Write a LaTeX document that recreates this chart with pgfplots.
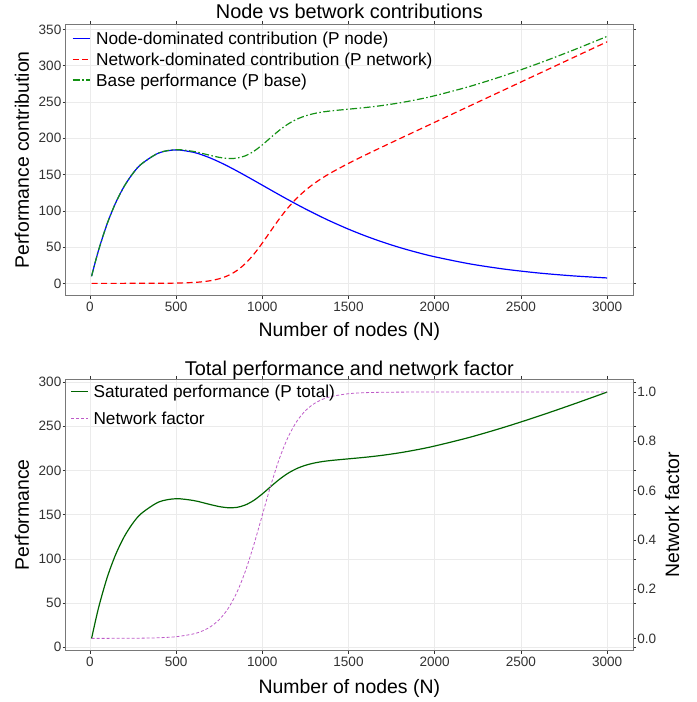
\documentclass[border=0pt]{standalone}
\usepackage{pgfplots}
\pgfplotsset{compat=1.18}
\usepackage{pgfplotstable}
\usepackage{fontspec}
\setmainfont{Liberation Sans}
\definecolor{lnBlue}{RGB}{0,0,255}
\definecolor{lnRed}{RGB}{255,0,0}
\definecolor{lnGreen}{RGB}{20,145,20}
\definecolor{lnDkGreen}{RGB}{0,100,0}
\definecolor{lnPurple}{RGB}{190,90,200}
\definecolor{gridc}{RGB}{235,235,235}
\definecolor{framec}{RGB}{120,120,120}
\definecolor{tickc}{RGB}{50,50,50}
\pgfplotstableread{
N node net base total factor
10 9.80 0.00 9.80 9.75 0.0000
50 45.24 0.00 45.24 44.19 0.0000
100 81.87 0.00 81.87 78.49 0.0001
150 111.12 0.00 111.12 104.98 0.0002
200 134.06 0.01 134.07 125.23 0.0003
250 151.63 0.02 151.65 140.44 0.0006
300 164.64 0.03 164.67 151.53 0.0009
400 179.73 0.11 179.84 164.29 0.0025
500 183.94 0.37 184.31 168.01 0.0067
600 180.71 1.20 181.91 166.01 0.0180
650 177.15 2.12 179.27 163.81 0.0293
700 172.62 3.69 176.31 161.34 0.0474
750 167.35 6.32 173.67 159.12 0.0759
800 161.52 10.59 172.11 157.81 0.1192
850 155.28 17.21 172.49 158.13 0.1824
900 148.77 26.86 175.63 160.77 0.2689
950 142.09 39.81 181.90 166.01 0.3775
1000 135.34 55.50 190.84 173.42 0.5000
1050 128.58 72.55 201.13 181.88 0.6225
1100 121.88 89.27 211.15 190.03 0.7311
1150 115.30 104.37 219.67 196.90 0.8176
1200 108.86 117.32 226.18 202.12 0.8808
1250 102.61 128.22 230.83 205.82 0.9241
1300 96.56 137.46 234.02 208.36 0.9526
1350 90.73 145.46 236.19 210.08 0.9707
1400 85.13 152.60 237.73 211.29 0.9820
1500 74.68 165.39 240.07 213.14 0.9933
1600 65.22 177.16 242.38 214.96 0.9975
1700 56.73 188.53 245.26 217.22 0.9991
1800 49.18 199.73 248.91 220.08 0.9997
1900 42.51 210.87 253.38 223.56 0.9999
2000 36.63 222.00 258.63 227.64 1.0000
2200 27.01 244.20 271.21 237.33 1.0000
2400 19.75 266.40 286.15 248.70 1.0000
2600 14.34 288.60 302.94 261.28 1.0000
2800 10.35 310.80 321.15 274.72 1.0000
3000 7.44 333.00 340.44 288.71 1.0000
}\datatab
\tikzset{
  stA/.style={draw=lnBlue, line width=1.2pt, solid},
  stB/.style={draw=lnRed, line width=1.2pt, dash pattern=on 6bp off 3.5bp},
  stC/.style={draw=lnGreen, line width=1.2pt, dash pattern=on 7bp off 2.5bp on 1.5bp off 2.5bp},
  stD/.style={draw=lnDkGreen, line width=1.2pt, solid},
  stE/.style={draw=lnPurple, line width=0.8pt, dash pattern=on 3bp off 2bp},
  legline/.style={line width=1.5pt},
  legtxt/.style={anchor=base west, inner sep=0pt, font=\fontsize{17.3}{20.7}\selectfont, text=black},
}
\pgfplotsset{
  base/.style={
    scale only axis, width=567.3bp, height=271.7bp,
    xmin=-140, xmax=3150,
    xtick={0,500,1000,1500,2000,2500,3000},
    scaled ticks=false,
    /pgf/number format/assume math mode=true,
    /pgf/number format/1000 sep={},
    tick label style={font=\fontsize{13.6}{16}\selectfont, text=tickc, inner sep=1.2bp},
    xticklabel style={yshift=-2bp},
    label style={font=\fontsize{19.5}{23}\selectfont},
    title style={font=\fontsize{20}{24}\selectfont, at={(0.5,1)}, anchor=base},
    tick align=outside, major tick length=3bp,
    tick style={tickc, line width=0.6pt},
    axis line style={framec, line width=0.8pt},
    grid=major, major grid style={gridc, line width=0.6pt},
    clip=false,
  }
}
\begin{document}
\begin{tikzpicture}[x=1bp,y=1bp]
\useasboundingbox (0,0) rectangle (697,702);
% top panel
\begin{axis}[base, at={(65.7bp,406.3bp)}, anchor=south west,
  ymin=-17, ymax=357.5, ytick={0,50,100,150,200,250,300,350},
  title={Node vs betwork contributions}, title style={yshift=-0.1bp},
  xlabel={Number of nodes (N)}, ylabel={Performance contribution},
  xlabel style={yshift=-6bp}, ylabel style={yshift=5bp}]
\addplot[stA, smooth] table[x=N,y=node] {\datatab};
\addplot[stB, smooth] table[x=N,y=net] {\datatab};
\addplot[stC, smooth] table[x=N,y=base] {\datatab};
% legend
\draw[stA, legline] (axis description cs:0.0123,0.9459) -- (axis description cs:0.0423,0.9459);
\node[legtxt] at (axis description cs:0.0534,0.9231) {Node-dominated contribution (P node)};
\draw[stB, legline] (axis description cs:0.0123,0.8701) -- (axis description cs:0.0423,0.8701);
\node[legtxt] at (axis description cs:0.0534,0.8473) {Network-dominated contribution (P network)};
\draw[stC, legline] (axis description cs:0.0123,0.7939) -- (axis description cs:0.0423,0.7939);
\node[legtxt] at (axis description cs:0.0534,0.7711) {Base performance (P base)};
\end{axis}
% bottom panel, left axis
\begin{axis}[base, at={(65.7bp,51.3bp)}, anchor=south west,
  ymin=-4, ymax=303.5, ytick={0,50,100,150,200,250,300},
  title={Total performance and network factor}, title style={yshift=-2.5bp},
  xlabel={Number of nodes (N)}, ylabel={Performance},
  xlabel style={yshift=-8bp}, ylabel style={yshift=5bp}]
\addplot[stD, smooth] table[x=N,y=total] {\datatab};
\end{axis}
% bottom panel, right axis
\begin{axis}[base, at={(65.7bp,51.3bp)}, anchor=south west,
  axis x line=none, axis y line*=right, grid=none,
  ymin=-0.05, ymax=1.053, ytick={0,0.2,0.4,0.6,0.8,1.0},
  yticklabel style={/pgf/number format/fixed, /pgf/number format/fixed zerofill, /pgf/number format/precision=1},
  ylabel={Network factor}, ylabel style={yshift=-4bp}]
\addplot[stE, smooth] table[x=N,y=factor] {\datatab};
% legend
\draw[stD, legline] (axis description cs:0.0095,0.9544) -- (axis description cs:0.0398,0.9544);
\node[legtxt] at (axis description cs:0.0487,0.9315) {Saturated performance (P total)};
\draw[stE, line width=1pt] (axis description cs:0.0095,0.8539) -- (axis description cs:0.0398,0.8539);
\node[legtxt] at (axis description cs:0.0487,0.8311) {Network factor};
\end{axis}
\end{tikzpicture}
\end{document}
